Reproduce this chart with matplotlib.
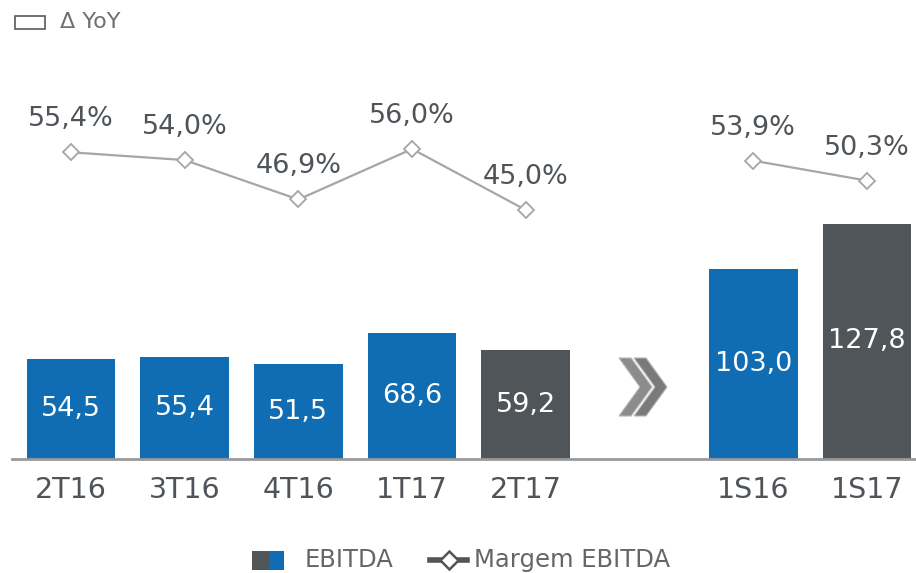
import matplotlib
matplotlib.use("Agg")
import matplotlib.pyplot as plt
from matplotlib.patches import Polygon, Rectangle
from matplotlib.lines import Line2D

categories = ["2T16", "3T16", "4T16", "1T17", "2T17", "1S16", "1S17"]
positions = [0, 1, 2, 3, 4, 6, 7]
ebitda = [54.5, 55.4, 51.5, 68.6, 59.2, 103.0, 127.8]
margem = [55.4, 54.0, 46.9, 56.0, 45.0, 53.9, 50.3]
bar_kind = ["b", "b", "b", "b", "g", "b", "g"]

BLUE = "#106db3"
DARK = "#505559"
LINEC = "#a6a6a6"
TXT = "#4f5459"
plt.rcParams['font.family'] = ['DejaVu Sans']

fig = plt.figure(figsize=(9.16, 5.73), dpi=100)
ax = fig.add_axes([0, (573 - 459) / 573, 1, 459 / 573])
px_per_idx = 113.7
x0 = -71 / px_per_idx
ax.set_xlim(x0, x0 + 916 / px_per_idx)
ax.set_ylim(0, 459 / 1.84)
ax.axis("off")

colors = [BLUE if k == "b" else DARK for k in bar_kind]
ax.bar(positions, ebitda, width=0.78, color=colors, zorder=2)
for p, v in zip(positions, ebitda):
    ax.text(p, v / 2, f"{v:.1f}".replace(".", ","), ha="center", va="center",
            color="white", fontsize=19.5, zorder=3)

# baseline
ax.plot([x0 + 12 / px_per_idx, x0 + 916 / px_per_idx], [0, 0], color="#999999",
        lw=2, clip_on=False, zorder=4)
for p, c in zip(positions, categories):
    ax.text(p, -17, c, ha="center", va="center", color=TXT, fontsize=20.5, clip_on=False)

# chevrons
def chevron(xl_px, yc_px):
    pts_px = [(0, -29), (12, -29), (33, 0), (12, 29), (0, 29), (21, 0)]
    return [((xl_px + dx) / px_per_idx + x0, (459 - (yc_px + dy)) / 1.84) for dx, dy in pts_px]
for off, col in [(0, "#8c8c8c"), (15, "#7a7a7a")]:
    ax.add_patch(Polygon(chevron(619 + off, 387), closed=True, facecolor=col,
                         edgecolor="#b5b5b5", lw=0.8, zorder=2))

# margin line on twin axis
ax2 = ax.twinx()
ax2.set_xlim(ax.get_xlim())
ax2.set_ylim(0.14, 0.14 + 459 / 5.55)
ax2.axis("off")
seg1 = (positions[:5], margem[:5])
seg2 = (positions[5:], margem[5:])
for xs, ys in (seg1, seg2):
    ax2.plot(xs, ys, color=LINEC, lw=1.6, marker="D", markersize=8,
             markerfacecolor="white", markeredgecolor=LINEC, markeredgewidth=1.3, zorder=5)
for p, m in zip(positions, margem):
    ax2.text(p, m + 33 / 5.55, f"{m:.1f}%".replace(".", ","), ha="center", va="center",
             color=TXT, fontsize=19.5)

# top-left legend
fig.patches.append(Rectangle((15 / 916, 1 - 29 / 573), 30 / 916, 13 / 573,
                             transform=fig.transFigure, facecolor="white",
                             edgecolor="#595959", lw=1.2))
fig.text(60 / 916, 1 - 22 / 573, "Δ YoY", color="#707070", fontsize=16, va="center", ha="left")

# bottom legend
fig.patches.append(Rectangle((252 / 916, 1 - 570 / 573), 17 / 916, 19 / 573,
                             transform=fig.transFigure, facecolor=DARK, edgecolor="none"))
fig.patches.append(Rectangle((269 / 916, 1 - 570 / 573), 15 / 916, 19 / 573,
                             transform=fig.transFigure, facecolor=BLUE, edgecolor="none"))
fig.text(305 / 916, 1 - 560 / 573, "EBITDA", color="#666666", fontsize=17.5, va="center", ha="left")
fig.lines.append(Line2D([430 / 916, 467 / 916], [1 - 560 / 573] * 2, transform=fig.transFigure,
                        color=DARK, lw=4))
fig.lines.append(Line2D([449 / 916], [1 - 560 / 573], transform=fig.transFigure,
                        marker="D", markersize=9, markerfacecolor="white",
                        markeredgecolor=DARK, markeredgewidth=1.8, lw=0))
fig.text(474 / 916, 1 - 560 / 573, "Margem EBITDA", color="#666666", fontsize=17.5,
         va="center", ha="left")

fig.savefig("out.png", dpi=100)
